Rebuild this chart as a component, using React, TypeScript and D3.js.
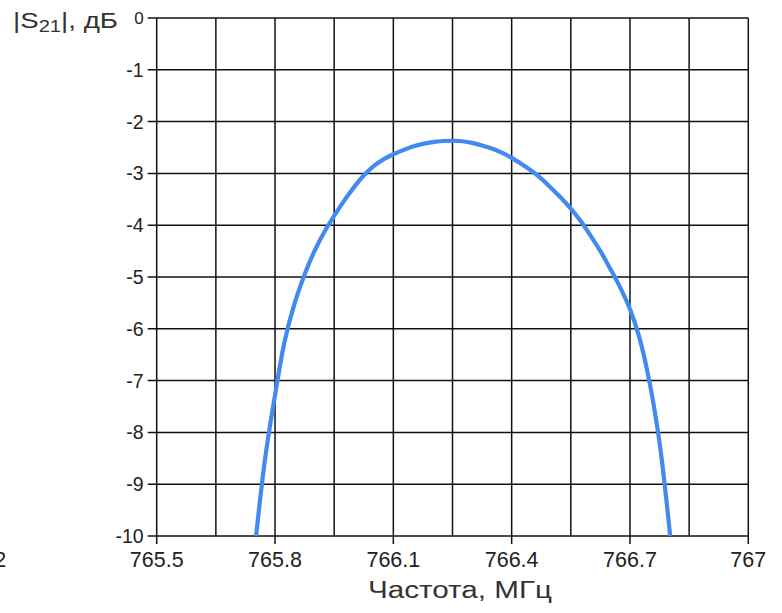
import React from "react";
import * as d3 from "d3";

const freqMHz = [
  765.752, 765.775, 765.8, 765.825, 765.85, 765.875, 765.9, 765.925, 765.95, 765.975,
  766.0, 766.025, 766.05, 766.075, 766.1, 766.125, 766.15, 766.175, 766.2, 766.225,
  766.25, 766.275, 766.3, 766.325, 766.35, 766.375, 766.4, 766.425, 766.45, 766.475,
  766.5, 766.525, 766.55, 766.575, 766.6, 766.625, 766.65, 766.675, 766.7, 766.725,
  766.75, 766.775, 766.802,
];
const s21dB = [
  -10, -8.5, -7.28, -6.22, -5.5, -4.95, -4.5, -4.13, -3.82, -3.53,
  -3.27, -3.04, -2.86, -2.73, -2.63, -2.55, -2.48, -2.43, -2.395, -2.375,
  -2.37, -2.38, -2.41, -2.46, -2.52, -2.6, -2.7, -2.82, -2.95, -3.1,
  -3.28, -3.47, -3.68, -3.92, -4.2, -4.5, -4.84, -5.2, -5.62, -6.2,
  -7.05, -8.2, -10,
];

const xGrid = [765.5, 765.65, 765.8, 765.95, 766.1, 766.25, 766.4, 766.55, 766.7, 766.85, 767];
const xTickValues = [765.5, 765.8, 766.1, 766.4, 766.7, 767];
const xTickLabels = ["765.5", "765.8", "766.1", "766.4", "766.7", "767"];
const yTicks = [0, -1, -2, -3, -4, -5, -6, -7, -8, -9, -10];

const W = 782;
const H = 613;

export default function App() {
  const x = d3.scaleLinear().domain([765.5, 767]).range([156.7, 748.3]);
  const y = d3.scaleLinear().domain([0, -10]).range([18, 536]);
  const data = freqMHz.map((f, i) => [f, s21dB[i]] as [number, number]);
  const line = d3
    .line<[number, number]>()
    .x((d) => x(d[0]))
    .y((d) => y(d[1]))
    .curve(d3.curveCatmullRom.alpha(0.5));
  const font = "'Liberation Sans', Arial, sans-serif";
  return (
    <svg
      width={W}
      height={H}
      style={{ position: "absolute", left: 0, top: 0, background: "#fff" }}
      fontFamily={font}
    >
      <rect x={0} y={0} width={W} height={H} fill="#fff" />
      {xGrid.map((v) => (
        <line key={"gx" + v} x1={x(v)} x2={x(v)} y1={y(0)} y2={y(-10)} stroke="#111" strokeWidth={1.5} />
      ))}
      {yTicks.map((v) => (
        <line key={"gy" + v} x1={x(765.5) - 9} x2={x(767)} y1={y(v)} y2={y(v)} stroke="#111" strokeWidth={1.5} />
      ))}
      {xTickValues.map((v) => (
        <line key={"tx" + v} x1={x(v)} x2={x(v)} y1={y(-10)} y2={y(-10) + 8} stroke="#111" strokeWidth={1.5} />
      ))}
      {yTicks.map((v) => (
        <text key={"ly" + v} x={x(765.5) - 13} y={y(v)} dy="0.36em" textAnchor="end" fontSize={v === 0 ? 17 : 19.5} fill="#222">
          {v}
        </text>
      ))}
      {xTickValues.map((v, i) => (
        <text key={"lx" + v} x={x(v)} y={567} textAnchor="middle" fontSize={21.5} fill="#222">
          {xTickLabels[i]}
        </text>
      ))}
      <text x={x(765.05)} y={567} textAnchor="middle" fontSize={21.5} fill="#222">
        765.2
      </text>
      <path d={line(data) || ""} fill="none" stroke="#4289f0" strokeWidth={4.2} strokeLinecap="butt" strokeLinejoin="round" />
      <text x={13} y={28} fontSize={22} fill="#333" textLength={105} lengthAdjust="spacingAndGlyphs">
        |S<tspan fontSize={16} dy={4}>21</tspan>
        <tspan dy={-4}>|, дБ</tspan>
      </text>
      <text x={368} y={598} fontSize={23.5} fill="#333" textLength={184} lengthAdjust="spacingAndGlyphs">
        Частота, МГц
      </text>
    </svg>
  );
}
